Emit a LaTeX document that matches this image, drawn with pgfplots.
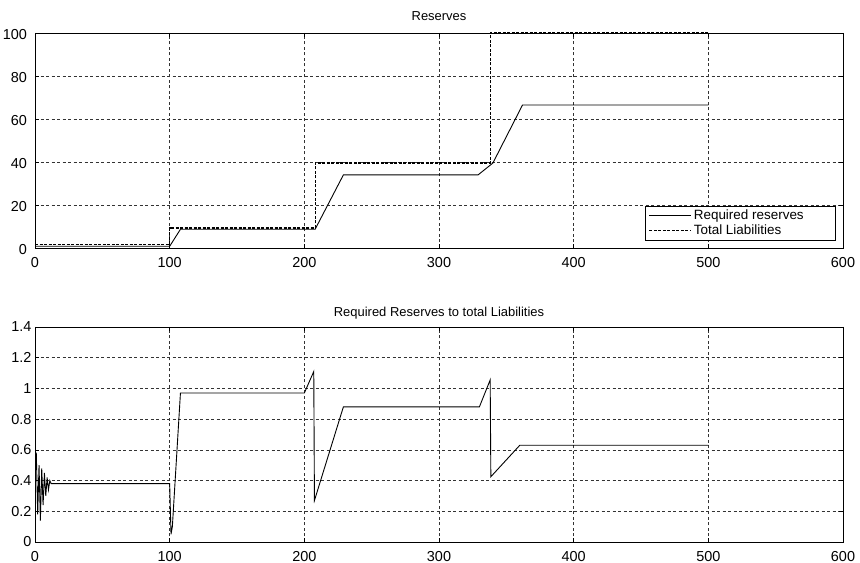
\documentclass[border=0pt]{standalone}
\usepackage{fontspec}
\setmainfont{Liberation Sans}
\usepackage{pgfplots}
\pgfplotsset{compat=1.18}

\pgfplotstableread{
x y
0 0.8
100 0.8
108 8.7
208 8.7
229 34
329 34
340 39.5
362 66.5
500 66.5
}\reqres

\pgfplotstableread{
x y
0 1.5
100 1.5
100 9.3
208 9.3
208 39.5
338 39.5
338 100
500 100
}\totliab

\pgfplotstableread{
x y
0 0.55
1 0.57
2 0.18
3 0.50
4 0.14
5 0.48
6 0.24
7 0.45
8 0.30
9 0.42
10 0.34
11 0.40
12 0.38
100 0.38
101 0.05
102 0.10
108 0.97
200 0.97
207 1.11
207.5 0.27
229 0.88
330 0.88
338 1.055
338.5 0.425
360 0.63
500 0.63
}\ratio

\pgfplotsset{
  common/.style={
    scale only axis, width=808bp, height=215bp,
    xmin=0, xmax=600, xtick={0,100,...,600},
    grid=major,
    major grid style={dash pattern=on 3bp off 2.5bp, black!80, line width=0.6bp},
    tick align=inside, major tick length=4bp,
    tick style={black, line width=0.6bp},
    axis line style={black, line width=0.8bp},
    tick label style={font=\fontsize{14.5}{16}\selectfont},
    /pgf/number format/assume math mode=true,
    xticklabel style={yshift=-6bp},
    title style={font=\fontsize{13}{15}\selectfont, at={(0.5,1)}, anchor=base},
  }
}

\begin{document}
\begin{tikzpicture}
\useasboundingbox (0,0) rectangle (860bp,563bp);
\begin{axis}[common,
  at={(35bp,315bp)}, anchor=south west,
  ymin=0, ymax=100, ytick={0,20,...,100},
  yticklabel style={xshift=-4.5bp, yshift=-2bp},
  title={Reserves}, title style={yshift=6.3bp},
  legend style={at={(0.990,0.037)}, anchor=south east, draw=black, fill=white,
    font=\fontsize{13.5}{15}\selectfont, inner xsep=3bp, inner ysep=1.5bp, row sep=0.5bp,
    cells={anchor=west}},
  legend image code/.code={\draw[#1] (0bp,0bp) -- (42bp,0bp);},
]
\addplot[black, line width=0.9bp] table {\reqres};
\addlegendentry{Required reserves\rule{26bp}{0pt}}
\addplot[black, line width=1.2bp, dash pattern=on 3bp off 1.5bp] table {\totliab};
\addlegendentry{Total Liabilities}
\end{axis}
\begin{axis}[common,
  at={(35bp,21bp)}, anchor=south west,
  ymin=0, ymax=1.4, ytick={0,0.2,...,1.4},
  yticklabel style={/pgf/number format/fixed, /pgf/number format/precision=1},
  title={Required Reserves to total Liabilities}, title style={yshift=4.3bp},
]
\addplot[black, line width=0.9bp] table {\ratio};
\end{axis}
\end{tikzpicture}
\end{document}
